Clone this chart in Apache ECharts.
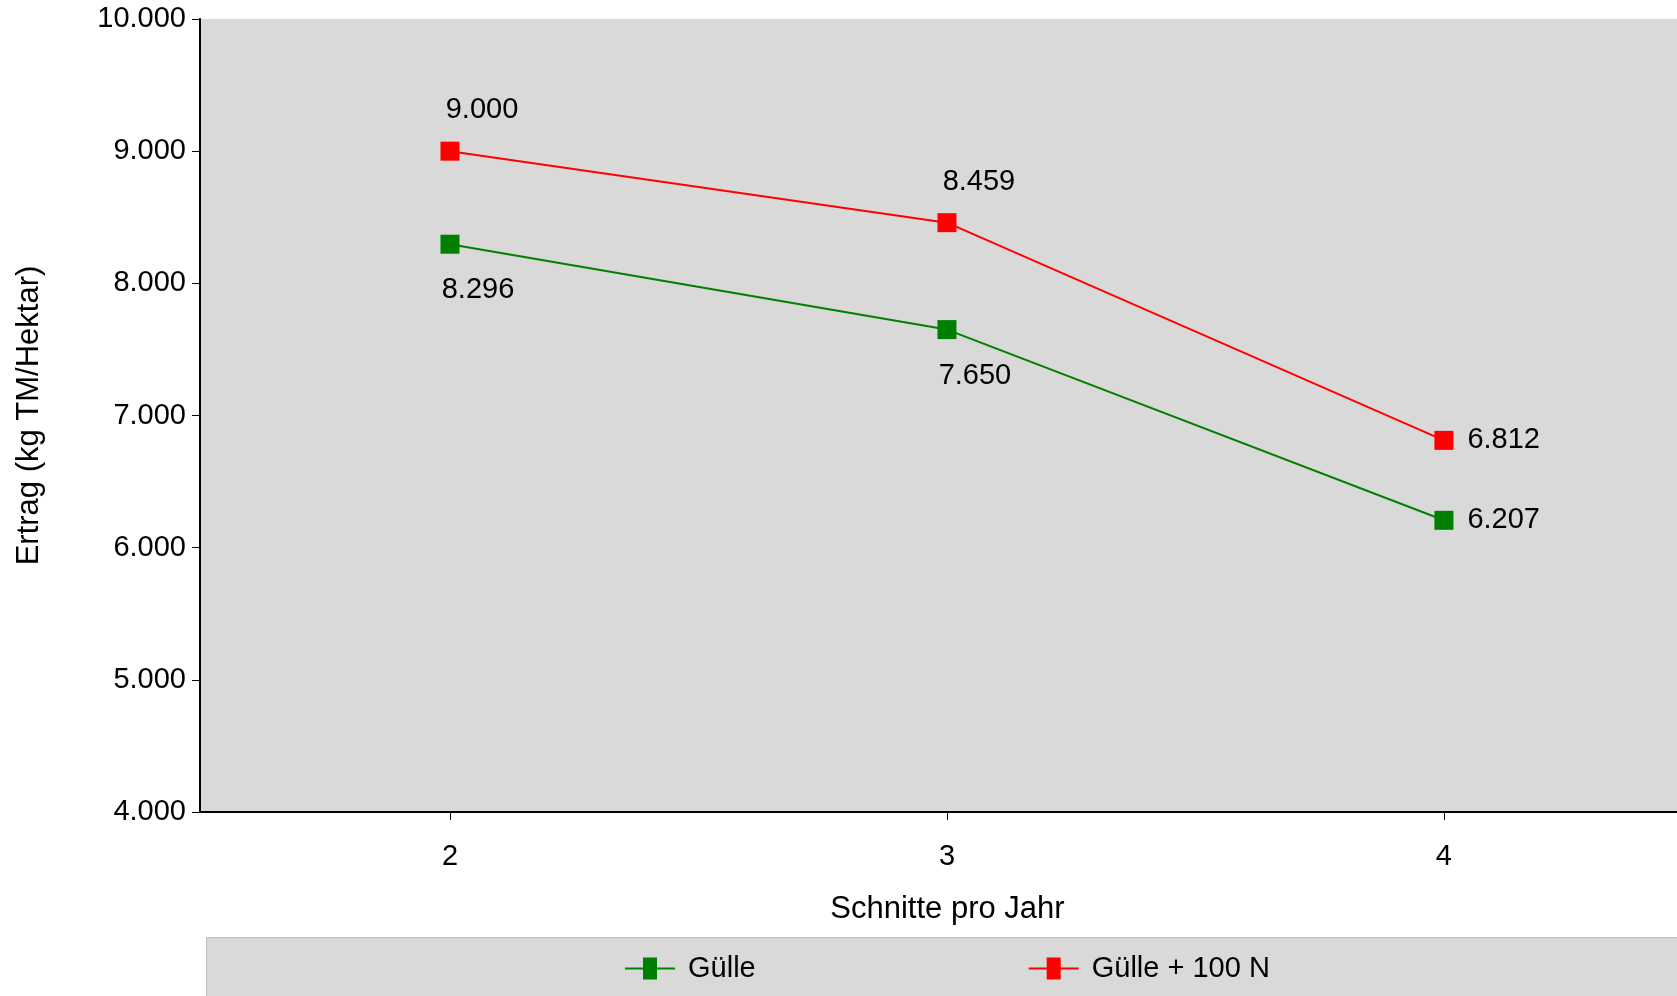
<!DOCTYPE html>
<html><head><meta charset="utf-8">
<script src="https://cdn.jsdelivr.net/npm/echarts@6/dist/echarts.min.js"></script>
<style>html,body{margin:0;padding:0;background:#fff}#c{width:1677px;height:996px}</style>
</head><body><div id="c"></div>
<script>
const categories = [2, 3, 4];
const gulle = [8296, 7650, 6207];
const gulleN = [9000, 8459, 6812];
const fmt = v => Math.round(v).toString().replace(/\B(?=(\d{3})+(?!\d))/g, '.');
const font = 'Liberation Sans, Arial, sans-serif';
const FS = 29;
const chart = echarts.init(document.getElementById('c'));
function mk(arr){return arr.map((v,i)=>i===2?{value:[categories[i],v],label:{position:'right',distance:14}}:[categories[i],v]);}
chart.setOption({
  animation:false,
  graphic:[{type:'rect',left:206,top:937,shape:{width:1471,height:59},style:{fill:'#d9d9d9',stroke:'#bfbfbf'},z:-1}],
  grid:{left:200,top:19,right:0,height:793,backgroundColor:'#d9d9d9',show:true,borderWidth:0},
  legend:{bottom:8,left:620,itemGap:273,itemWidth:50,itemHeight:22,icon:'path://M0,10h18v-10h14v10h18v2h-18v10h-14v-10h-18z',
    textStyle:{fontSize:FS,fontFamily:font,color:'#000',padding:[0,0,0,8]},data:['Gülle','Gülle + 100 N']},
  xAxis:{type:'value',min:1.497,max:4.469,name:'Schnitte pro Jahr',nameLocation:'middle',nameGap:82,
    nameTextStyle:{fontSize:31,fontFamily:font,color:'#000',padding:[0,0,0,18]},splitLine:{show:false},
    axisLine:{lineStyle:{color:'#000',width:2}},axisTick:{length:8,lineStyle:{color:'#000'},customValues:categories},
    axisLabel:{fontSize:FS,fontFamily:font,color:'#000',margin:30,customValues:categories,formatter:v=>String(v)}},
  yAxis:{type:'value',min:4000,max:10000,interval:1000,name:'Ertrag (kg TM/Hektar)',nameLocation:'middle',nameGap:155,
    nameTextStyle:{fontSize:31,fontFamily:font,color:'#000'},
    axisLine:{show:true,lineStyle:{color:'#000',width:2}},axisTick:{show:true,length:8,lineStyle:{color:'#000'}},
    splitLine:{show:false},axisLabel:{fontSize:FS,fontFamily:font,color:'#000',margin:14,formatter:fmt}},
  series:[
    {name:'Gülle',type:'line',data:mk(gulle),color:'#008000',symbol:'rect',symbolSize:19,lineStyle:{width:2},
      label:{show:true,color:'#000',fontSize:FS,fontFamily:font,formatter:p=>fmt(p.value[1]),position:'bottom',distance:22},
      labelLayout:p=>p.dataIndex===2?{}:{dx:28}},
    {name:'Gülle + 100 N',type:'line',data:mk(gulleN),color:'#ff0000',symbol:'rect',symbolSize:19,lineStyle:{width:2},
      label:{show:true,color:'#000',fontSize:FS,fontFamily:font,formatter:p=>fmt(p.value[1]),position:'top',distance:17},
      labelLayout:p=>p.dataIndex===2?{}:{dx:32}}
  ]
});
</script></body></html>
